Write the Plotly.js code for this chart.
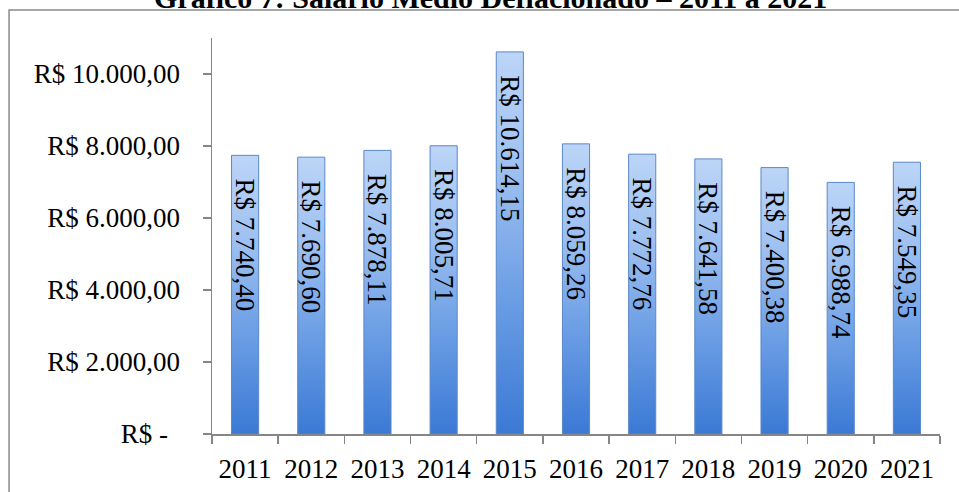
<!DOCTYPE html>
<html>
<head>
<meta charset="utf-8">
<script src="https://cdn.plot.ly/plotly-3.0.1.min.js"></script>
<style>html,body{margin:0;padding:0;background:#fff;}#chart{width:959px;height:492px;}</style>
</head>
<body>
<div id="chart"></div>
<script>
const years = ["2011","2012","2013","2014","2015","2016","2017","2018","2019","2020","2021"];
const salaries = [7740.40, 7690.60, 7878.11, 8005.71, 10614.15, 8059.26, 7772.76, 7641.58, 7400.38, 6988.74, 7549.35];
const barLabels = ["R$ 7.740,40","R$ 7.690,60","R$ 7.878,11","R$ 8.005,71","R$ 10.614,15","R$ 8.059,26","R$ 7.772,76","R$ 7.641,58","R$ 7.400,38","R$ 6.988,74","R$ 7.549,35"];
const yTickVals = [0, 2000, 4000, 6000, 8000, 10000];
const yTickText = ["R$ -\u00a0\u2009","R$ 2.000,00","R$ 4.000,00","R$ 6.000,00","R$ 8.000,00","R$ 10.000,00"];
const titleText = "Gráfico 7: Salário Médio Deflacionado – 2011 a 2021";

const serif = "Liberation Serif, Times New Roman, serif";

const trace = {
  type: "bar",
  x: years,
  y: salaries,
  text: barLabels,
  texttemplate: "\u00a0\u00a0\u00a0%{text}",
  textposition: "inside",
  insidetextanchor: "end",
  textangle: 90,
  constraintext: "none",
  textfont: {family: serif, size: 27, color: "#000"},
  width: 0.41,
  marker: {color: "#6f9fe4", line: {color: "#5b88c8", width: 1}},
  hoverinfo: "skip"
};

const layout = {
  width: 959, height: 492,
  margin: {l: 212, r: 19, t: 38, b: 58},
  paper_bgcolor: "#fff", plot_bgcolor: "#fff",
  showlegend: false,
  font: {family: serif, size: 27, color: "#000"},
  xaxis: {
    type: "category",
    tickson: "boundaries",
    ticks: "outside", ticklen: 8, tickcolor: "#868686", tickwidth: 1.5,
    showline: true, linecolor: "#868686", linewidth: 1.5,
    showgrid: false, zeroline: false,
    ticklabelstandoff: 10,
    tickfont: {family: serif, size: 27, color: "#000"}
  },
  yaxis: {
    range: [0, 11000],
    tickvals: yTickVals, ticktext: yTickText,
    ticks: "outside", ticklen: 8, tickcolor: "#868686", tickwidth: 1.5,
    showline: true, linecolor: "#868686", linewidth: 1.5,
    showgrid: false, zeroline: false,
    ticklabelstandoff: 17,
    tickfont: {family: serif, size: 27, color: "#000"}
  },
  annotations: [{
    text: "<b>" + titleText + "</b>",
    xref: "paper", yref: "paper",
    x: 0.383, y: 1.0556, xanchor: "center", yanchor: "bottom",
    showarrow: false,
    font: {family: serif, size: 30, color: "#000"}
  }],
  shapes: [{
    type: "rect", xref: "paper", yref: "paper",
    x0: -0.2788, x1: 1.04, y0: -0.2, y1: 1.0707,
    line: {color: "#8a8a8a", width: 1.5}, fillcolor: "rgba(0,0,0,0)", layer: "below"
  }]
};

Plotly.newPlot("chart", [trace], layout, {staticPlot: true}).then(function(gd){
  const svg = gd.querySelector("svg.main-svg");
  const ns = "http://www.w3.org/2000/svg";
  let defs = svg.querySelector("defs");
  if (!defs) { defs = document.createElementNS(ns, "defs"); svg.insertBefore(defs, svg.firstChild); }
  const grad = document.createElementNS(ns, "linearGradient");
  grad.setAttribute("id", "barGrad");
  grad.setAttribute("x1", "0"); grad.setAttribute("y1", "0");
  grad.setAttribute("x2", "0"); grad.setAttribute("y2", "1");
  [["0", "#bcd5f7"], ["0.3", "#9fc1f1"], ["0.65", "#6a9de4"], ["1", "#3b79d5"]].forEach(function(s){
    const st = document.createElementNS(ns, "stop");
    st.setAttribute("offset", s[0]); st.setAttribute("stop-color", s[1]);
    grad.appendChild(st);
  });
  defs.appendChild(grad);
  gd.querySelectorAll(".bars .point path").forEach(function(p){
    p.style.fill = "url(#barGrad)";
    p.style.fillOpacity = "1";
  });
});
</script>
</body>
</html>
